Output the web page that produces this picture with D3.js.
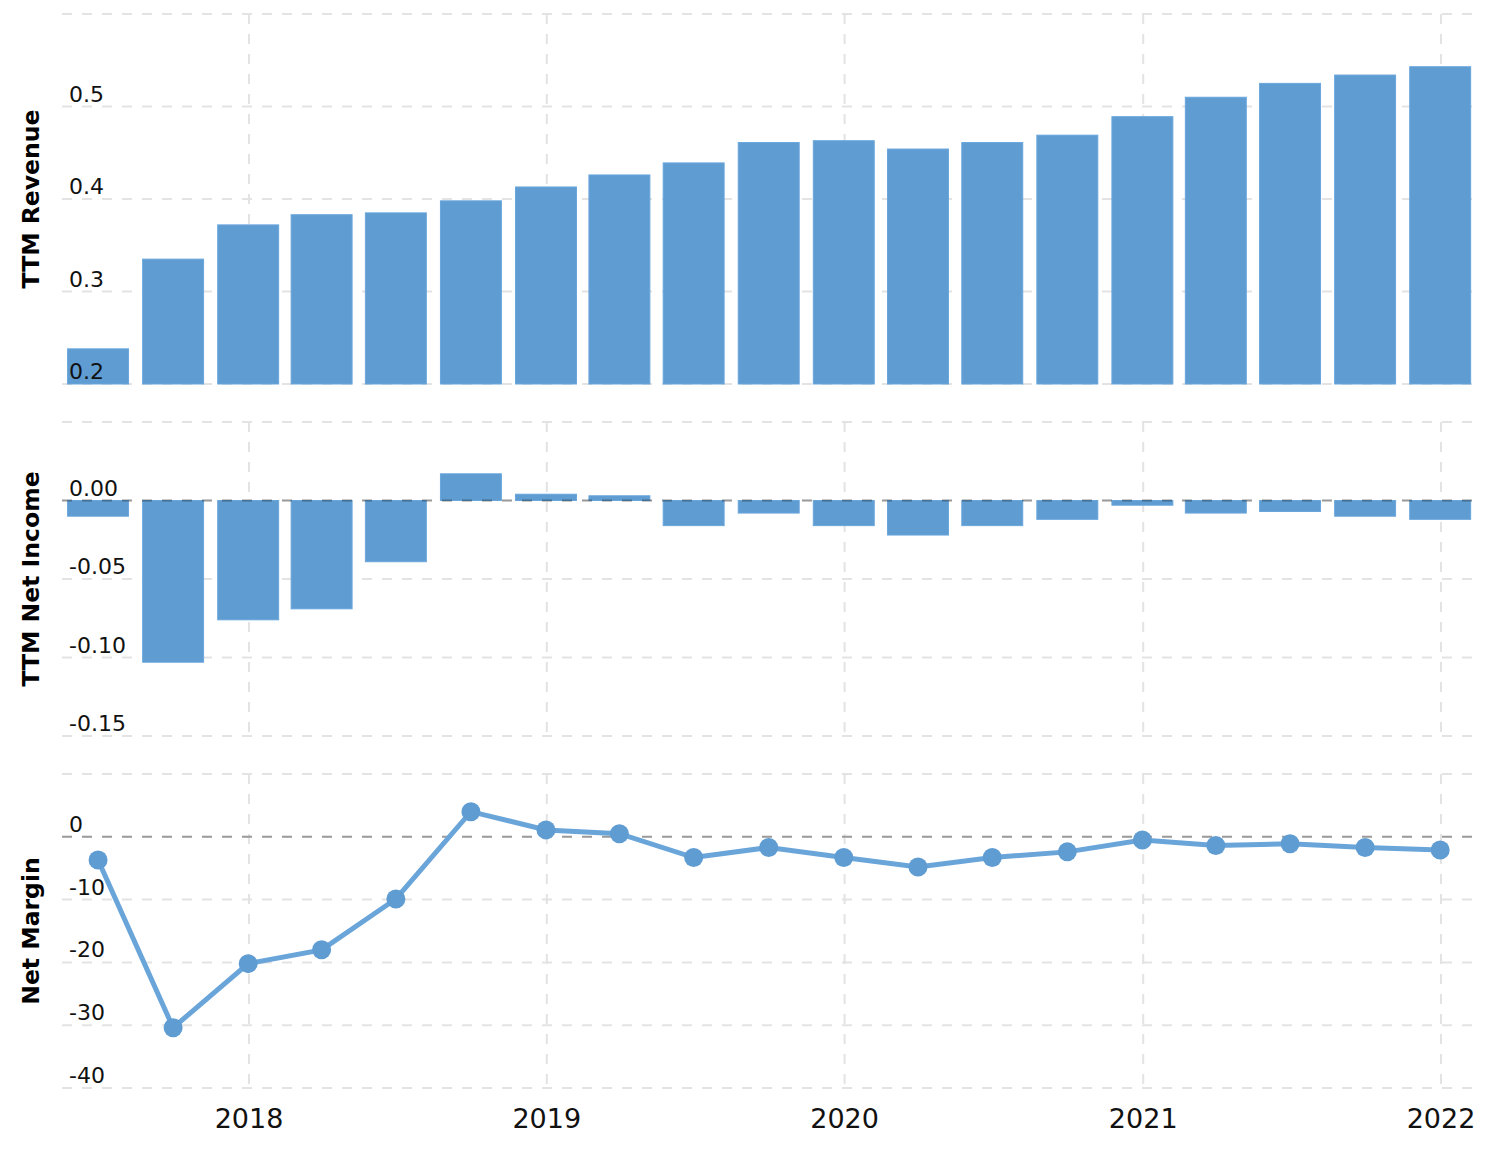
<!DOCTYPE html>
<html>
<head>
<meta charset="utf-8">
<script src="https://cdn.jsdelivr.net/npm/d3@7"></script>
<style>
  body { margin: 0; background: #fff; }
  text { font-family: "DejaVu Sans", Verdana, sans-serif; }
</style>
</head>
<body>
<div id="chart"></div>
<script>
const width = 1498;
const height = 1160;

// quarter end dates
const quarters = [
  "2017-06-30", "2017-09-30", "2017-12-31", "2018-03-31", "2018-06-30",
  "2018-09-30", "2018-12-31", "2019-03-31", "2019-06-30", "2019-09-30",
  "2019-12-31", "2020-03-31", "2020-06-30", "2020-09-30", "2020-12-31",
  "2021-03-31", "2021-06-30", "2021-09-30", "2021-12-31"
];

const revenue = [
  0.238, 0.335, 0.372, 0.383, 0.385, 0.398, 0.413, 0.426, 0.439, 0.461,
  0.463, 0.454, 0.461, 0.469, 0.489, 0.510, 0.525, 0.534, 0.543
];

const netIncome = [
  -0.010, -0.103, -0.076, -0.069, -0.039, 0.017, 0.004, 0.003, -0.016, -0.008,
  -0.016, -0.022, -0.016, -0.012, -0.003, -0.008, -0.007, -0.010, -0.012
];

const netMargin = [
  -3.7, -30.4, -20.2, -18.0, -9.9, 4.0, 1.1, 0.5, -3.3, -1.7,
  -3.3, -4.8, -3.3, -2.4, -0.5, -1.4, -1.1, -1.7, -2.1
];

const yearTicks = ["2018-01-01", "2019-01-01", "2020-01-01", "2021-01-01", "2022-01-01"];
const revenueTicks = [0.2, 0.3, 0.4, 0.5, 0.6];
const incomeTicks = [-0.15, -0.10, -0.05, 0.00, 0.05];
const marginTicks = [-40, -30, -20, -10, 0, 10];

const parse = d3.timeParse("%Y-%m-%d");
const dates = quarters.map(parse);

const left = 62, right = 1472;
const barColor = "#5f9cd2";
const gridColor = "#e3e3e3";

const x = d3.scaleTime()
  .domain([parse("2018-01-01"), parse("2022-01-01")])
  .range([249, 1441]);

const barW = (x(parse("2018-04-01")) - x(parse("2018-01-01"))) * 0.83;

// plain hyphen for negatives, like the original
const hy = f => d => f(d).replace("\u2212", "-");

const svg = d3.select("#chart")
  .append("svg")
  .attr("width", width)
  .attr("height", height);

const panels = [
  { title: "TTM Revenue", values: revenue, ticks: revenueTicks, domain: [0.2, 0.6], range: [384, 14], fmt: hy(d3.format(".1f")), type: "bar" },
  { title: "TTM Net Income", values: netIncome, ticks: incomeTicks, domain: [-0.15, 0.05], range: [736, 422], fmt: hy(d3.format(".2f")), type: "bar", zero: true },
  { title: "Net Margin", values: netMargin, ticks: marginTicks, domain: [-40, 10], range: [1088, 774], fmt: hy(d3.format("d")), type: "line", zero: true }
];

panels.forEach(p => {
  const y = d3.scaleLinear().domain(p.domain).range(p.range);
  const g = svg.append("g");

  // horizontal grid
  g.append("g")
    .selectAll("line")
    .data(p.ticks)
    .join("line")
    .attr("x1", left)
    .attr("x2", right)
    .attr("y1", d => y(d))
    .attr("y2", d => y(d))
    .attr("stroke", gridColor)
    .attr("stroke-width", 2)
    .attr("stroke-dasharray", "10,10");

  // vertical grid
  g.append("g")
    .selectAll("line")
    .data(yearTicks.map(parse))
    .join("line")
    .attr("x1", d => x(d))
    .attr("x2", d => x(d))
    .attr("y1", p.range[1])
    .attr("y2", p.range[0])
    .attr("stroke", gridColor)
    .attr("stroke-width", 2)
    .attr("stroke-dasharray", "10,10");

  if (p.type === "bar") {
    const base = p.zero ? 0 : p.domain[0];
    g.append("g")
      .selectAll("rect")
      .data(p.values)
      .join("rect")
      .attr("x", (d, i) => x(dates[i]) - barW / 2)
      .attr("width", barW)
      .attr("y", d => y(Math.max(d, base)))
      .attr("height", d => Math.abs(y(d) - y(base)))
      .attr("fill", barColor)
      .attr("stroke", "#69a6dc")
      .attr("stroke-width", 1);
  }

  if (p.zero) {
    g.append("line")
      .attr("x1", left)
      .attr("x2", right)
      .attr("y1", y(0))
      .attr("y2", y(0))
      .attr("stroke", "rgba(0,0,0,0.32)")
      .attr("stroke-width", 2)
      .attr("stroke-dasharray", "10,10");
  }

  if (p.type === "line") {
    const line = d3.line()
      .x((d, i) => x(dates[i]))
      .y(d => y(d));
    g.append("path")
      .datum(p.values)
      .attr("fill", "none")
      .attr("stroke", "#6aa5da")
      .attr("stroke-width", 5)
      .attr("d", line);
    g.append("g")
      .selectAll("circle")
      .data(p.values)
      .join("circle")
      .attr("cx", (d, i) => x(dates[i]))
      .attr("cy", d => y(d))
      .attr("r", 9.5)
      .attr("fill", barColor);
  }

  // tick labels, top tick left unlabeled
  g.append("g")
    .selectAll("text")
    .data(p.ticks.slice(0, -1))
    .join("text")
    .attr("x", 69)
    .attr("y", d => y(d) - 5)
    .attr("font-size", 22)
    .attr("fill", "#111")
    .text(d => p.fmt(d));

  // axis title
  const mid = (p.range[0] + p.range[1]) / 2;
  g.append("text")
    .attr("transform", `translate(39,${mid}) rotate(-90)`)
    .attr("text-anchor", "middle")
    .attr("font-size", 23.5)
    .attr("font-weight", "bold")
    .attr("fill", "#000")
    .text(p.title);
});

// x axis labels
svg.append("g")
  .selectAll("text")
  .data(yearTicks.map(parse))
  .join("text")
  .attr("x", d => x(d))
  .attr("y", 1128)
  .attr("text-anchor", "middle")
  .attr("font-size", 27)
  .attr("fill", "#111")
  .text(d => d3.timeFormat("%Y")(d));
</script>
</body>
</html>
